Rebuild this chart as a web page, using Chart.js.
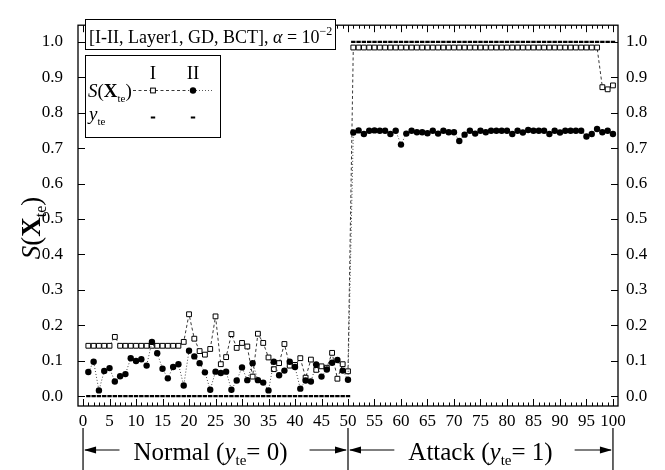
<!DOCTYPE html>
<html><head><meta charset="utf-8">
<script src="https://cdn.jsdelivr.net/npm/chart.js@4.4.1/dist/chart.umd.min.js"></script>
<style>html,body{margin:0;padding:0;background:#fff;}canvas{display:block;}</style>
</head><body>
<canvas id="c" width="665" height="470"></canvas>
<script>
// ---- data ----
const sampleIndex = Array.from({length: 100}, (_, i) => i + 1);
const sI = [
 0.142,0.142,0.142,0.142,0.142,0.167,0.142,0.142,0.142,0.142,
 0.142,0.142,0.142,0.142,0.142,0.142,0.142,0.142,0.153,0.231,
 0.162,0.127,0.117,0.133,0.225,0.090,0.110,0.175,0.136,0.150,
 0.140,0.055,0.176,0.150,0.109,0.076,0.093,0.147,0.086,0.088,
 0.107,0.052,0.103,0.074,0.084,0.080,0.122,0.049,0.090,0.070,
 0.984,0.984,0.984,0.984,0.984,0.984,0.984,0.984,0.984,0.984,
 0.984,0.984,0.984,0.984,0.984,0.984,0.984,0.984,0.984,0.984,
 0.984,0.984,0.984,0.984,0.984,0.984,0.984,0.984,0.984,0.984,
 0.984,0.984,0.984,0.984,0.984,0.984,0.984,0.984,0.984,0.984,
 0.984,0.984,0.984,0.984,0.984,0.984,0.984,0.872,0.866,0.877];
const sII = [
 0.068,0.097,0.016,0.071,0.079,0.041,0.056,0.062,0.107,0.099,
 0.104,0.086,0.153,0.121,0.077,0.050,0.082,0.090,0.030,0.128,
 0.112,0.093,0.067,0.018,0.069,0.065,0.069,0.018,0.044,0.081,
 0.045,0.093,0.045,0.038,0.016,0.097,0.059,0.072,0.097,0.082,
 0.021,0.044,0.041,0.089,0.055,0.075,0.094,0.102,0.072,0.046,
 0.744,0.750,0.740,0.749,0.750,0.749,0.749,0.740,0.749,0.710,
 0.741,0.749,0.745,0.745,0.742,0.749,0.741,0.749,0.745,0.745,
 0.720,0.738,0.749,0.741,0.749,0.745,0.749,0.749,0.749,0.749,
 0.740,0.749,0.744,0.751,0.749,0.749,0.749,0.740,0.749,0.744,
 0.749,0.749,0.749,0.749,0.733,0.740,0.754,0.745,0.749,0.740];
const yTe = [
 0,0,0,0,0,0,0,0,0,0, 0,0,0,0,0,0,0,0,0,0, 0,0,0,0,0,0,0,0,0,0,
 0,0,0,0,0,0,0,0,0,0, 0,0,0,0,0,0,0,0,0,0,
 1,1,1,1,1,1,1,1,1,1, 1,1,1,1,1,1,1,1,1,1, 1,1,1,1,1,1,1,1,1,1,
 1,1,1,1,1,1,1,1,1,1, 1,1,1,1,1,1,1,1,1,1];
const xTickValues = [0,5,10,15,20,25,30,35,40,45,50,55,60,65,70,75,80,85,90,95,100];
const yTickValues = [0,0.1,0.2,0.3,0.4,0.5,0.6,0.7,0.8,0.9,1.0];
const seriesNames = ['I', 'II'];
const classLabels = ['Normal', 'Attack'];
const classValues = [0, 1];
const boxTitle = '[I-II, Layer1, GD, BCT], ';

// ---- helpers ----
const SERIF = '"Liberation Serif", "Times New Roman", serif';
function f(size, style) { return (style || '') + ' ' + size + 'px ' + SERIF; }
function richWidth(ctx, parts) {
  let w = 0;
  for (const p of parts) { ctx.font = p.f; w += ctx.measureText(p.t).width + (p.dx || 0); }
  return w;
}
function drawRich(ctx, x, y, parts) {
  let cx = x;
  ctx.textAlign = 'left';
  ctx.textBaseline = 'alphabetic';
  for (const p of parts) {
    ctx.font = p.f;
    ctx.fillText(p.t, cx, y + (p.dy || 0));
    cx += ctx.measureText(p.t).width + (p.dx || 0);
  }
  return cx;
}
function arrowHead(ctx, tipX, y, dir) {
  ctx.beginPath();
  ctx.moveTo(tipX, y);
  ctx.lineTo(tipX + dir * 12, y - 3.5);
  ctx.lineTo(tipX + dir * 12, y + 3.5);
  ctx.closePath();
  ctx.fill();
}

const decor = {
  id: 'decor',
  afterDraw(chart) {
    const ctx = chart.ctx;
    const a = chart.chartArea;
    const xs = chart.scales.x, ys = chart.scales.y;
    ctx.save();
    ctx.fillStyle = '#000';
    ctx.strokeStyle = '#000';
    // frame
    ctx.lineWidth = 1.3;
    ctx.strokeRect(a.left, a.top, a.right - a.left, a.bottom - a.top);
    // x ticks (minor every unit, major every 5), inward on bottom and top
    ctx.lineWidth = 1;
    ctx.beginPath();
    for (let v = 0; v <= 100; v++) {
      const px = Math.round(xs.getPixelForValue(v)) + 0.5;
      const len = (v % 5 === 0) ? 7 : 3.5;
      ctx.moveTo(px, a.bottom); ctx.lineTo(px, a.bottom - len);
      ctx.moveTo(px, a.top); ctx.lineTo(px, a.top + len);
    }
    for (const v of yTickValues) {
      const py = Math.round(ys.getPixelForValue(v)) + 0.5;
      ctx.moveTo(a.left, py); ctx.lineTo(a.left + 7, py);
      ctx.moveTo(a.right, py); ctx.lineTo(a.right - 7, py);
    }
    ctx.stroke();

    // y axis title S(X_te)
    ctx.save();
    ctx.translate(31, 228);
    ctx.rotate(-Math.PI / 2);
    const tParts = [
      {t: 'S', f: f(27, 'italic')},
      {t: '(', f: f(27)},
      {t: 'X', f: f(27, 'bold')},
      {t: 'te', f: f(16), dy: 6},
      {t: ')', f: f(27)}];
    const tw = richWidth(ctx, tParts);
    drawRich(ctx, -tw / 2, 9, tParts);
    ctx.restore();

    // title box
    ctx.fillStyle = '#fff';
    ctx.fillRect(85, 19, 250, 30);
    ctx.fillStyle = '#000';
    ctx.lineWidth = 1;
    ctx.strokeRect(85.5, 19.5, 250, 30);
    drawRich(ctx, 89, 43, [
      {t: boxTitle, f: f(18)},
      {t: 'α', f: f(18, 'italic')},
      {t: ' = 10', f: f(18)},
      {t: '−2', f: f(12), dy: -8}]);

    // legend box
    ctx.fillStyle = '#fff';
    ctx.fillRect(85, 55, 135, 82);
    ctx.fillStyle = '#000';
    ctx.strokeRect(85.5, 55.5, 135, 82);
    const cI = 153, cII = 193;
    ctx.font = f(19);
    ctx.textAlign = 'center';
    ctx.textBaseline = 'alphabetic';
    ctx.fillText(seriesNames[0], cI, 79);
    ctx.fillText(seriesNames[1], cII, 79);
    drawRich(ctx, 88, 97, [
      {t: 'S', f: f(19, 'italic')},
      {t: '(', f: f(19)},
      {t: 'X', f: f(19, 'bold')},
      {t: 'te', f: f(11), dy: 5},
      {t: ')', f: f(19)}]);
    drawRich(ctx, 89, 120, [
      {t: 'y', f: f(19, 'italic')},
      {t: 'te', f: f(11), dy: 5}]);
    // legend line samples
    ctx.lineWidth = 0.9;
    ctx.strokeStyle = '#222';
    ctx.setLineDash([3, 2.5]);
    ctx.beginPath(); ctx.moveTo(133, 90.5); ctx.lineTo(189, 90.5); ctx.stroke();
    ctx.setLineDash([1, 2]);
    ctx.strokeStyle = '#444';
    ctx.beginPath(); ctx.moveTo(190, 90.5); ctx.lineTo(214, 90.5); ctx.stroke();
    ctx.setLineDash([]);
    ctx.strokeStyle = '#000';
    ctx.fillStyle = '#fff';
    ctx.lineWidth = 1;
    ctx.fillRect(cI - 2.4, 88.1, 4.8, 4.8);
    ctx.strokeRect(cI - 2.4, 88.1, 4.8, 4.8);
    ctx.fillStyle = '#000';
    ctx.beginPath(); ctx.arc(cII, 90.5, 3.2, 0, Math.PI * 2); ctx.fill();
    ctx.lineWidth = 2.2;
    ctx.beginPath();
    ctx.moveTo(cI - 2.2, 117.5); ctx.lineTo(cI + 2.2, 117.5);
    ctx.moveTo(cII - 2.2, 117.5); ctx.lineTo(cII + 2.2, 117.5);
    ctx.stroke();

    // bottom class annotation
    const x0 = xs.getPixelForValue(0), x50 = xs.getPixelForValue(50), x100 = xs.getPixelForValue(100);
    const ay = 450;
    ctx.lineWidth = 1.2;
    ctx.beginPath();
    for (const bx of [x0, x50, x100]) { ctx.moveTo(bx, 428); ctx.lineTo(bx, 470); }
    ctx.stroke();
    const labelParts = (name, val) => [
      {t: name + ' (', f: f(25)},
      {t: 'y', f: f(25, 'italic')},
      {t: 'te', f: f(15), dy: 5},
      {t: '= ' + val + ')', f: f(25)}];
    const segs = [[x0, x50, classLabels[0], classValues[0]], [x50, x100, classLabels[1], classValues[1]]];
    for (const [l, r, name, val] of segs) {
      const parts = labelParts(name, val);
      const w = richWidth(ctx, parts);
      const cx = (l + r) / 2 + (name === 'Normal' ? -5 : 0);
      const tx = cx - w / 2;
      ctx.fillStyle = '#000';
      drawRich(ctx, tx, 460, parts);
      ctx.lineWidth = 1.2;
      ctx.beginPath();
      ctx.moveTo(l + 2, ay); ctx.lineTo(tx - 14, ay);
      ctx.moveTo(tx + w + 22, ay); ctx.lineTo(r - 2, ay);
      ctx.stroke();
      arrowHead(ctx, l + 1, ay, 1);
      arrowHead(ctx, r - 1, ay, -1);
    }
    ctx.restore();
  }
};

const pts = vals => sampleIndex.map((x, i) => ({x, y: vals[i]}));
const tickFont = {family: '"Liberation Serif", "Times New Roman", serif', size: 17};

new Chart(document.getElementById('c'), {
  type: 'line',
  data: {
    datasets: [
      {
        label: 'S II', data: pts(sII), order: 0,
        borderColor: '#444', borderWidth: 1, borderDash: [1, 2],
        pointStyle: 'circle', pointRadius: 3.2, pointBackgroundColor: '#000', pointBorderColor: '#000', pointBorderWidth: 0,
        tension: 0, fill: false
      },
      {
        label: 'S I', data: pts(sI), order: 1,
        borderColor: '#222', borderWidth: 0.9, borderDash: [3, 2.5],
        pointStyle: 'rect', pointRadius: 3.4, pointBackgroundColor: '#fff', pointBorderColor: '#000', pointBorderWidth: 1,
        tension: 0, fill: false
      },
      {
        label: 'y te', data: pts(yTe), order: 2, showLine: false,
        pointStyle: 'line', pointRadius: 2.2, pointBorderWidth: 2.2, pointBorderColor: '#000', pointBackgroundColor: '#000'
      }
    ]
  },
  options: {
    responsive: false, animation: false, events: [],
    layout: {padding: {top: 12, left: 0, right: 0, bottom: 0}},
    plugins: {legend: {display: false}, tooltip: {enabled: false}},
    scales: {
      x: {
        type: 'linear', min: -0.95, max: 100.95, position: 'bottom',
        grid: {display: false, drawTicks: false}, border: {display: false},
        ticks: {font: tickFont, color: '#000', padding: 5, maxRotation: 0, autoSkip: false},
        afterBuildTicks: s => { s.ticks = xTickValues.map(v => ({value: v})); },
        afterFit: s => { s.height = 64; }
      },
      y: {
        type: 'linear', min: -0.028, max: 1.047, position: 'left',
        grid: {display: false, drawTicks: false}, border: {display: false},
        ticks: {font: tickFont, color: '#000', padding: 15, callback: v => Number(v).toFixed(1)},
        afterBuildTicks: s => { s.ticks = yTickValues.map(v => ({value: v})); },
        afterFit: s => { s.width = 78; }
      },
      y2: {
        type: 'linear', min: -0.028, max: 1.047, position: 'right',
        grid: {display: false, drawTicks: false}, border: {display: false},
        ticks: {font: tickFont, color: '#000', padding: 8, callback: v => Number(v).toFixed(1)},
        afterBuildTicks: s => { s.ticks = yTickValues.map(v => ({value: v})); },
        afterFit: s => { s.width = 47; }
      }
    }
  },
  plugins: [decor]
});
</script>
</body></html>
